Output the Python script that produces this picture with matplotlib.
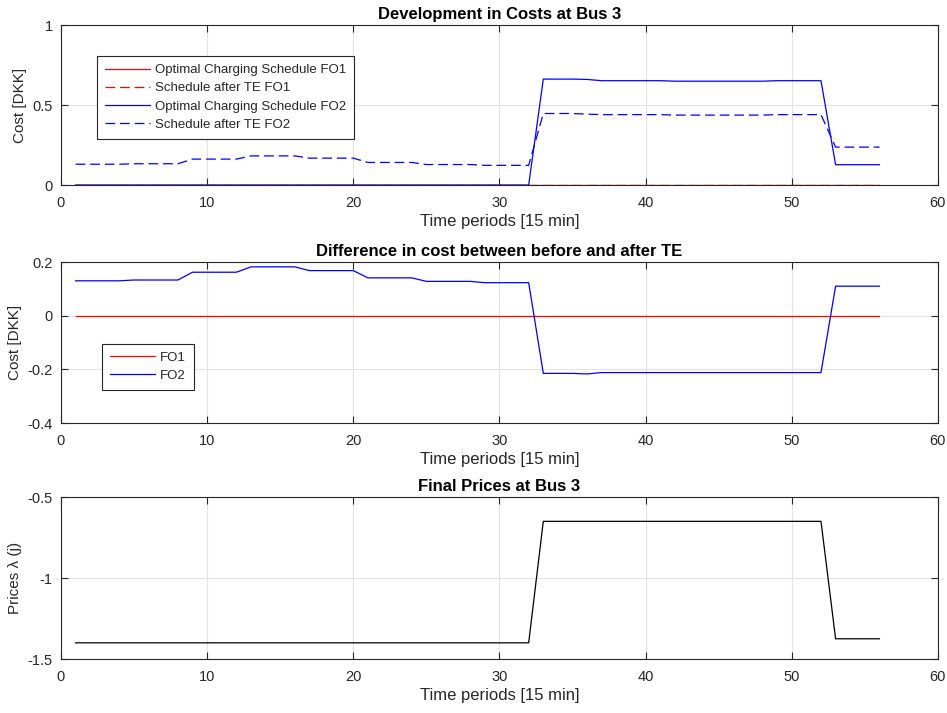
import numpy as np
import matplotlib
matplotlib.use("Agg")
import matplotlib.pyplot as plt

plt.rcParams['font.family'] = ['Liberation Sans', 'DejaVu Sans']
plt.rcParams['lines.scale_dashes'] = False

t = np.arange(1, 57)

# top panel: cost at bus 3
opt_fo1 = [0.0] * 56
after_fo1 = [0.0] * 56
opt_fo2 = ([0.0] * 32 + [0.662] * 3 + [0.66] + [0.652] * 5 + [0.649] * 7
           + [0.652] * 4 + [0.127] * 4)
after_fo2 = ([0.13] * 4 + [0.133] * 4 + [0.162] * 4 + [0.182] * 4 + [0.168] * 4
             + [0.141] * 4 + [0.128] * 4 + [0.123] * 4 + [0.447] * 3 + [0.443]
             + [0.44] * 5 + [0.437] * 7 + [0.44] * 4 + [0.237] * 4)

# middle panel: difference before / after TE
diff_fo1 = np.array(after_fo1) - np.array(opt_fo1)
diff_fo2 = np.array(after_fo2) - np.array(opt_fo2)

# bottom panel: prices
prices = [-1.40] * 32 + [-0.65] * 20 + [-1.375] * 4

xlabel = 'Time periods [15 min]'
lw = 0.9
dash = (7, 3.5)
dark = '#262626'


def style(ax):
    ax.set_xlim(0, 60)
    ax.set_xticks([0, 10, 20, 30, 40, 50, 60])
    ax.grid(True, color='#e3e3e3', linewidth=0.8)
    ax.set_axisbelow(True)
    ax.tick_params(direction='in', top=True, right=True, length=5,
                   width=0.8, colors=dark, labelsize=10.5, labelcolor=dark)
    ax.tick_params(axis='x', pad=8)
    ax.tick_params(axis='y', pad=6)
    for s in ax.spines.values():
        s.set_color(dark)
        s.set_linewidth(0.8)
    ax.set_xlabel(xlabel, fontsize=12, labelpad=3, color=dark)


def legend(ax, loc, anchor):
    leg = ax.legend(loc=loc, bbox_to_anchor=anchor, borderaxespad=0, fontsize=9.5,
                    fancybox=False, framealpha=1, edgecolor=dark,
                    handlelength=3.4, handletextpad=0.4, borderpad=0.6,
                    labelspacing=0.45)
    leg.get_frame().set_linewidth(0.8)
    for txt in leg.get_texts():
        txt.set_color(dark)
    return leg


fig = plt.figure(figsize=(9.47, 7.13), dpi=100)
ax1 = fig.add_axes([0.0644, 0.7405, 0.926, 0.2244])
ax2 = fig.add_axes([0.0644, 0.4067, 0.926, 0.2258])
ax3 = fig.add_axes([0.0644, 0.0757, 0.926, 0.2272])

ax1.plot(t, opt_fo1, color='red', lw=lw, label='Optimal Charging Schedule FO1')
ax1.plot(t, after_fo1, color='red', lw=lw, ls='--', dashes=dash,
         label='Schedule after TE FO1')
ax1.plot(t, opt_fo2, color='blue', lw=lw, label='Optimal Charging Schedule FO2')
ax1.plot(t, after_fo2, color='blue', lw=lw, ls='--', dashes=dash,
         label='Schedule after TE FO2')
style(ax1)
ax1.set_ylim(0, 1)
ax1.set_yticks([0, 0.5, 1])
ax1.set_yticklabels(['0', '0.5', '1'])
ax1.set_ylabel('Cost [DKK]', fontsize=11, color=dark)
ax1.set_title('Development in Costs at Bus 3', fontsize=12, fontweight='bold', pad=4)
legend(ax1, 'upper left', (0.041, 0.806))

ax2.plot(t, diff_fo1, color='red', lw=lw, label='FO1')
ax2.plot(t, diff_fo2, color='blue', lw=lw, label='FO2')
style(ax2)
ax2.set_ylim(-0.4, 0.2)
ax2.set_yticks([-0.4, -0.2, 0, 0.2])
ax2.set_yticklabels(['-0.4', '-0.2', '0', '0.2'])
ax2.set_ylabel('Cost [DKK]', fontsize=11, color=dark)
ax2.set_title('Difference in cost between before and after TE', fontsize=12,
              fontweight='bold', pad=4)
legend(ax2, 'lower left', (0.0468, 0.205))

ax3.plot(t, prices, color='black', lw=lw)
style(ax3)
ax3.set_ylim(-1.5, -0.5)
ax3.set_yticks([-1.5, -1, -0.5])
ax3.set_yticklabels(['-1.5', '-1', '-0.5'])
ax3.set_ylabel('Prices \u03bb (j)', fontsize=11, color=dark)
ax3.set_title('Final Prices at Bus 3', fontsize=12, fontweight='bold', pad=4)

fig.savefig('out.png', dpi=100)
